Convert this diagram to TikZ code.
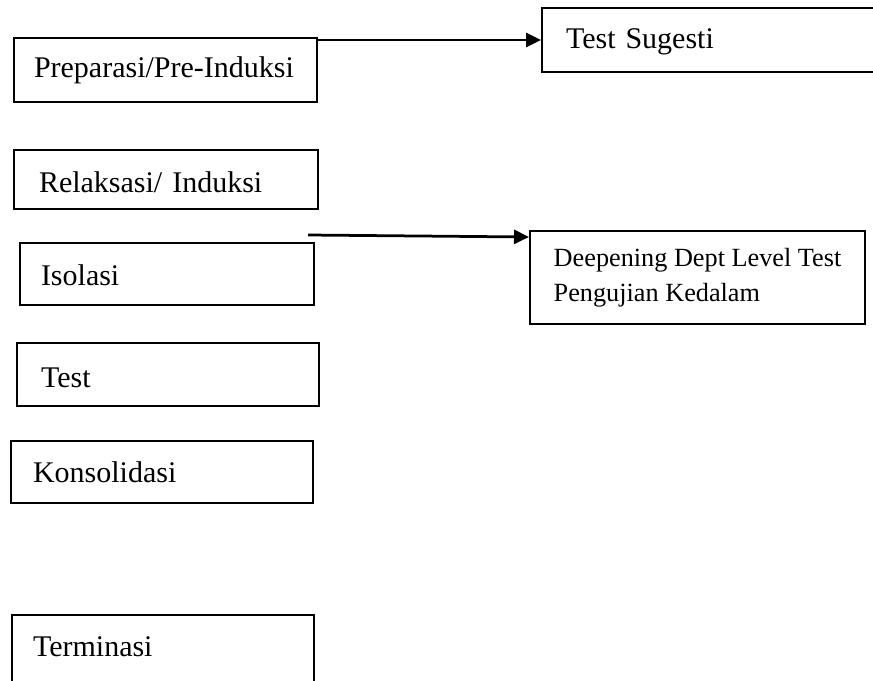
\documentclass[tikz,border=0pt]{standalone}
\usepackage{fontspec}
\setmainfont{Liberation Serif}
\usetikzlibrary{arrows.meta}

\begin{document}
\begin{tikzpicture}[x=0.4pt,y=-0.4pt,
        stage/.style={draw, rectangle, line width=0.8pt, anchor=base west,
            inner ysep=0pt, align=left, font=\fontsize{12}{14.4}\selectfont},
        arr/.style={-{Triangle[length=6pt,width=5.6pt]}, line width=1.1pt}]
        \useasboundingbox (0,0) rectangle (873,680);

        % 左侧的各个阶段
        \node[stage, text height=15.6pt, text depth=10pt, inner xsep=8pt, text width=105.2pt] (prep) at (13,77) {Preparasi/Pre-Induksi};
        \node[stage, text height=16.8pt, text depth=6.8pt, inner xsep=10pt, text width=101.6pt] (relak) at (13,192) {Relaksasi/ Induksi};
        \node[stage, text height=16.8pt, text depth=8pt, inner xsep=8.4pt, text width=100.8pt] (iso) at (19,285) {Isolasi};
        \node[stage, text height=17.6pt, text depth=7.6pt, inner xsep=9.6pt, text width=101.6pt] (test) at (16,387) {Test};
        \node[stage, text height=16.4pt, text depth=8.4pt, inner xsep=8.8pt, text width=103.2pt] (kons) at (10,482) {Konsolidasi};
        \node[stage, text height=16.4pt, text depth=17.6pt, inner xsep=8.4pt, text width=104pt] (term) at (11,656) {Terminasi};

        % 右侧的测试框
        \node[stage, text height=16pt, text depth=9.6pt, inner xsep=9.6pt, text width=140pt] (sug) at (541,48) {Test Sugesti};
        \node[stage, anchor=north west, inner sep=0pt, minimum width=134pt, minimum height=37.2pt,
            font=\fontsize{10.5}{14}\selectfont] (deep) at (529,230) {Deepening Dept Level Test\\Pengujian Kedalam};

        % 箭头
        \coordinate (isoout) at (308,235);
        \draw[arr] (prep.north east |- sug.west) -- (sug.west);
        \draw[arr] (isoout) -- ([yshift=-2.8pt]deep.north west);
\end{tikzpicture}
\end{document}
